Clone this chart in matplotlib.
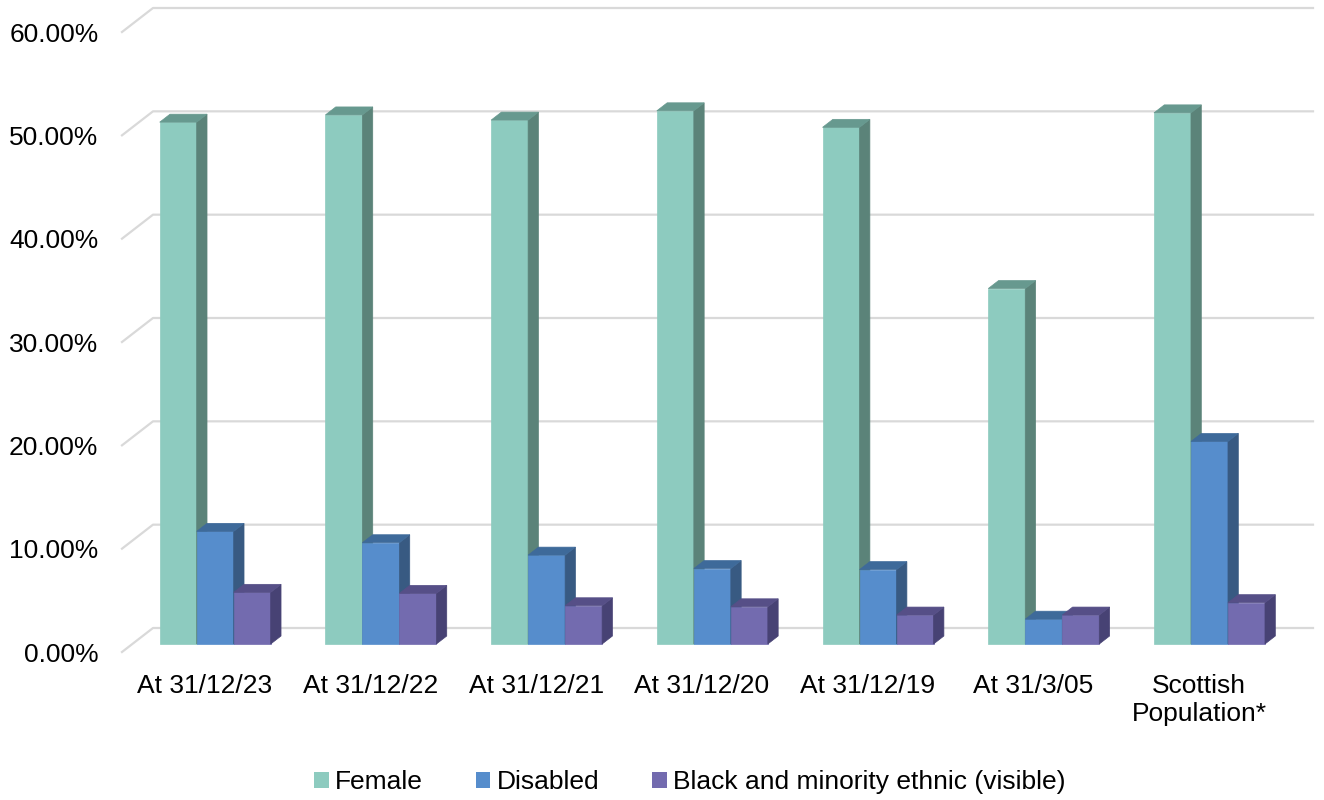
import matplotlib
matplotlib.use("Agg")
import matplotlib.pyplot as plt
import numpy as np
from matplotlib.patches import Polygon, Patch
from matplotlib.lines import Line2D
from matplotlib.transforms import Affine2D, IdentityTransform

# ---- data -------------------------------------------------------------
categories = ["At 31/12/23", "At 31/12/22", "At 31/12/21", "At 31/12/20",
              "At 31/12/19", "At 31/3/05", "Scottish\nPopulation*"]
female = [50.5, 51.2, 50.7, 51.6, 50.0, 34.4, 51.4]
disabled = [10.9, 9.8, 8.6, 7.3, 7.2, 2.4, 19.6]
bme = [5.0, 4.9, 3.7, 3.6, 2.8, 2.8, 4.0]
series_names = ["Female", "Disabled", "Black and minority ethnic (visible)"]
y_ticks = [0, 10, 20, 30, 40, 50, 60]

# front / side / top shades for each series
palettes = [
    ("#8DCBBF", "#5B8379", "#67998F"),
    ("#568DCC", "#385A82", "#3E6A9A"),
    ("#736BAF", "#474274", "#564F87"),
]

plt.rcParams["font.family"] = ["Liberation Sans", "DejaVu Sans"]
FS = 19

W, H, DPI = 1324, 800, 100
fig = plt.figure(figsize=(W / DPI, H / DPI), dpi=DPI)
fig.patch.set_facecolor("white")
ax = fig.add_axes([122 / W, 148 / H, 1160 / W, 620 / H])
ax.set_xlim(0, len(categories))
ax.set_ylim(0, 60)
for s in ax.spines.values():
    s.set_visible(False)
ax.set_facecolor("none")

# oblique depth of the plot box, in pixels (right / up)
DEPTH = np.array([31.0, 24.0])
bar_front = DEPTH / 3.0
bar_back = DEPTH * 2.0 / 3.0
bar_depth = bar_back - bar_front

pix = IdentityTransform()
fig.canvas.draw()
T = ax.transData.transform

# gridlines: slanted on the side wall, flat on the back wall
for t in y_ticks:
    p0 = T((0, t))
    p1 = p0 + DEPTH
    p2 = T((len(categories), t)) + DEPTH
    ax.add_line(Line2D([p0[0], p1[0], p2[0]], [p0[1], p1[1], p2[1]],
                       transform=pix, color="#D9D9D9", lw=1.6,
                       clip_on=False, zorder=0))

# bars
n_series = 3
bw = 0.2233
values = [female, disabled, bme]
front_tr = ax.transData + Affine2D().translate(*bar_front)
z = 2
for i in range(len(categories)):
    for k in range(n_series):
        v = values[k][i]
        front, side, top = palettes[k]
        xl = i + 0.5 - 1.5 * bw + k * bw
        xr = xl + bw
        ax.bar([xl], [v], width=bw, align="edge", color=front,
               edgecolor=front, lw=0.5, transform=front_tr,
               zorder=z, clip_on=False)
        B = T((xr, 0)) + bar_front
        C = T((xr, v)) + bar_front
        D = T((xl, v)) + bar_front
        ax.add_patch(Polygon([B, B + bar_depth, C + bar_depth, C],
                             closed=True, transform=pix, facecolor=side,
                             edgecolor=side, lw=0.5, clip_on=False,
                             zorder=z))
        ax.add_patch(Polygon([D, C, C + bar_depth, D + bar_depth],
                             closed=True, transform=pix, facecolor=top,
                             edgecolor=top, lw=0.5, clip_on=False,
                             zorder=z))
        z += 1

# axes labels
ax.set_yticks(y_ticks)
ax.set_yticklabels([f"{t:.2f}%" for t in y_ticks], fontsize=FS, color="#000000")
ax.set_xticks([i + 0.5 for i in range(len(categories))])
ax.set_xticklabels(categories, fontsize=FS, color="#000000", linespacing=1.2)
ax.tick_params(axis="y", length=0, pad=17)
ax.tick_params(axis="x", length=0, pad=16)

# legend
handles = [Patch(facecolor=p[0], edgecolor="none") for p in palettes]
fig.legend(handles, series_names, loc="center",
           bbox_to_anchor=(690 / W, 1 - 782 / H), ncol=3, frameon=False,
           fontsize=FS, handlelength=0.55, handleheight=0.55,
           handletextpad=0.25, columnspacing=2.0)

fig.savefig("out.png", dpi=DPI, facecolor="white")
